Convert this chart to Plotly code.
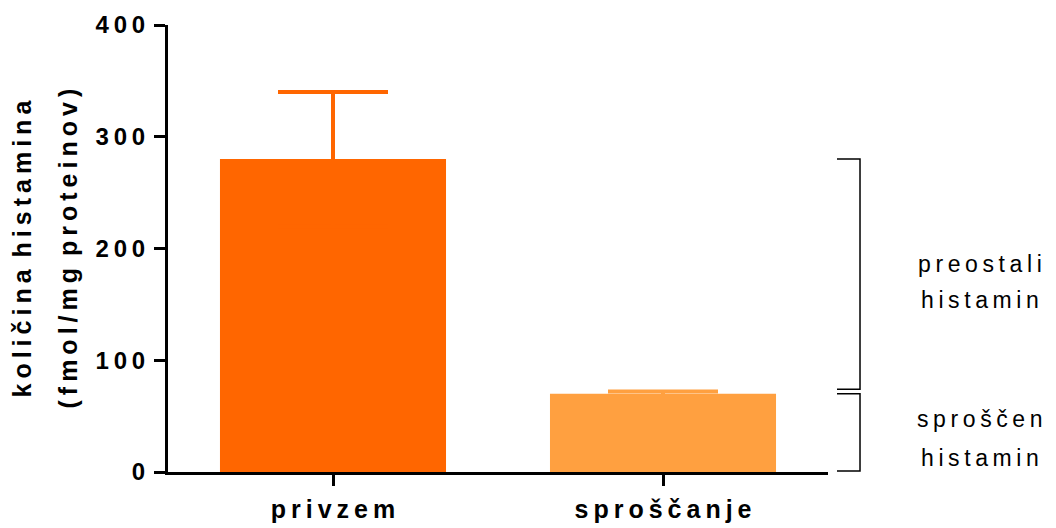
import plotly.graph_objects as go

# Histamine content (fmol/mg protein): uptake vs. release
categories = ["privzem", "sproščanje"]
values = [280, 70]
errors = [60, 2]
bar_colors = ["#FF6600", "#FFA040"]

y_tick_values = [0, 100, 200, 300, 400]
y_max = 400

title_lines = ["količina histamina", "(fmol/mg proteinov)"]
bracket_labels = [["preostali", "histamin"], ["sproščen", "histamin"]]

THIN = "\u2009"


def spaced(text, gap=THIN):
    """Spread the letters of a word; words are separated by a wider gap."""
    return (gap + " ").join(gap.join(word) for word in text.split(" "))


FONT = "Liberation Sans, Arial, sans-serif"

fig = go.Figure()
for cat, val, err, col in zip(categories, values, errors, bar_colors):
    # symmetric SD; the lower half sits inside the bar in the same colour
    fig.add_trace(go.Bar(
        x=[cat], y=[val], width=0.685,
        marker=dict(color=col, line=dict(width=0)),
        error_y=dict(type="data", symmetric=True, array=[err],
                     color=col, thickness=4, width=55),
        showlegend=False,
    ))

fig.update_layout(
    width=1056, height=528,
    margin=dict(l=168, r=228, t=25, b=56),
    plot_bgcolor="white", paper_bgcolor="white",
    barmode="overlay",
    font=dict(family=FONT, color="black"),
)

fig.update_xaxes(
    type="category", range=[-0.5, 1.5], automargin=False,
    showline=True, linewidth=3, linecolor="black",
    ticks="outside", ticklen=11, tickwidth=3, tickcolor="black",
    tickvals=categories, ticktext=[spaced(c) for c in categories],
    tickfont=dict(size=25, weight="bold"), ticklabelstandoff=2,
    showgrid=False, zeroline=False,
)
fig.update_yaxes(
    range=[0, y_max], automargin=False,
    showline=True, linewidth=3, linecolor="black",
    ticks="outside", ticklen=11, tickwidth=3, tickcolor="black",
    tickvals=y_tick_values, ticktext=[spaced(str(v)) for v in y_tick_values],
    tickfont=dict(size=24, weight="bold"), ticklabelstandoff=4,
    showgrid=False, zeroline=False,
)

# Two-line rotated axis title
for text, xpos in zip(title_lines, [-0.2227, -0.1530]):
    fig.add_annotation(
        text=spaced(text), textangle=-90,
        xref="paper", yref="paper", x=xpos, y=0.5,
        xanchor="center", yanchor="middle", showarrow=False,
        font=dict(size=25, weight="bold", family=FONT),
    )

# Brackets marking the retained and released fractions
remaining_lo = values[1] + 4
brackets = [(remaining_lo, values[0]), (1, values[1])]
x_in, x_out = 1.0136, 1.0485
for lo, hi in brackets:
    y0, y1 = lo / y_max, hi / y_max
    fig.add_shape(
        type="path", xref="paper", yref="paper",
        path=f"M {x_in} {y1} L {x_out} {y1} L {x_out} {y0} L {x_in} {y0}",
        line=dict(color="black", width=1.5),
    )

label_rows = [(0.465, 0.385), (0.118, 0.031)]
for lines, ys in zip(bracket_labels, label_rows):
    for text, ypos in zip(lines, ys):
        fig.add_annotation(
            text=spaced(text), xref="paper", yref="paper",
            x=1.2303, y=ypos, xanchor="center", yanchor="middle",
            showarrow=False, font=dict(size=23, family=FONT),
        )

fig.write_html("out.html")
